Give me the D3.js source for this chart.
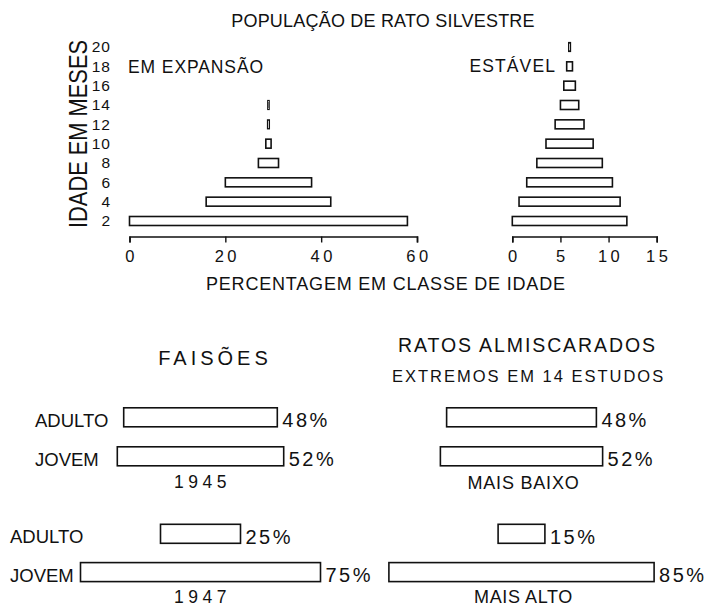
<!DOCTYPE html>
<html>
<head>
<meta charset="utf-8">
<script src="https://cdn.jsdelivr.net/npm/d3@7"></script>
<style>
  body { margin: 0; background: #fff; }
  svg { display: block; font-family: "Liberation Sans", Arial, sans-serif; }
</style>
</head>
<body>
<div id="chart"></div>
<script>
// top pyramids: percentage in each 2-month age class
const ages = [2, 4, 6, 8, 10, 12, 14, 16, 18, 20];
const expansao = [58, 26, 18, 4.2, 1.1, 0.4, 0.3];
const estavel = [11.9, 10.5, 8.9, 6.8, 4.9, 3.0, 1.9, 1.2, 0.6, 0.2];
const ticksExpansao = [0, 20, 40, 60];
const ticksEstavel = [0, 5, 10, 15];

// bottom: adult / young split
const classes = ["ADULTO", "JOVEM"];
const faisoes1945 = [48, 52];
const faisoes1947 = [25, 75];
const ratosBaixo = [48, 52];
const ratosAlto = [15, 85];

const width = 707, height = 607;
const ink = "#111";

const svg = d3.select("#chart").append("svg")
    .attr("width", width)
    .attr("height", height);

svg.append("rect").attr("width", width).attr("height", height).attr("fill", "#fff");

function label(txt, x, y, size, ls, anchor) {
  return svg.append("text")
      .attr("x", x).attr("y", y)
      .attr("font-size", size)
      .attr("letter-spacing", ls || 0)
      .attr("text-anchor", anchor || "start")
      .attr("fill", ink)
      .text(txt);
}

// ---- top section ----
label("POPULAÇÃO DE RATO SILVESTRE", 383, 27, 18, 0.2, "middle");

const y = d3.scaleLinear().domain([2, 20]).range([221, 47]);
const barH = 9;

svg.append("g")
    .attr("transform", "translate(111,0)")
    .call(d3.axisLeft(y).tickValues(ages).tickSize(0).tickPadding(0))
    .call(g => g.select(".domain").remove())
    .call(g => g.selectAll("text")
        .attr("font-size", 15.5)
        .attr("letter-spacing", 1)
        .attr("fill", ink)
        .attr("font-family", "Liberation Sans, Arial, sans-serif"));

svg.append("text")
    .attr("transform", "translate(87,134) rotate(-90)")
    .attr("text-anchor", "middle")
    .attr("font-size", 25)
    .attr("textLength", 188)
    .attr("lengthAdjust", "spacingAndGlyphs")
    .attr("fill", ink)
    .text("IDADE EM MESES");

function pyramid(values, xScale, ticks) {
  const center = d3.max(values) / 2;
  svg.append("g")
    .selectAll("rect")
    .data(values)
    .join("rect")
      .attr("x", d => xScale(center - d / 2))
      .attr("y", (d, i) => y(ages[i]) - barH / 2)
      .attr("width", d => Math.max(0.5, xScale(center + d / 2) - xScale(center - d / 2)))
      .attr("height", barH)
      .attr("fill", "#fff")
      .attr("stroke", ink)
      .attr("stroke-width", d => d < 0.5 ? 1.2 : 1.6);

  svg.append("g")
      .attr("transform", "translate(0,236.5)")
      .call(d3.axisBottom(xScale).tickValues(ticks).tickSize(6).tickSizeOuter(6).tickPadding(8))
      .call(g => g.select(".domain").attr("stroke", ink).attr("stroke-width", 1.6))
      .call(g => g.selectAll("line").attr("stroke", ink).attr("stroke-width", 1.4))
      .call(g => g.selectAll("text")
          .attr("font-size", 16.5)
          .attr("letter-spacing", 3.5)
          .attr("dx", "1.5")
          .attr("fill", ink)
          .attr("font-family", "Liberation Sans, Arial, sans-serif"));
}

const xExp = d3.scaleLinear().domain([0, 60]).range([129.5, 417]);
const xEst = d3.scaleLinear().domain([0, 15]).range([512.3, 656.7]);
pyramid(expansao, xExp, ticksExpansao);
pyramid(estavel, xEst, ticksEstavel);

label("EM EXPANSÃO", 128, 73, 17.5, 0.9);
label("ESTÁVEL", 556, 72, 17.5, 1.1, "end");
label("PERCENTAGEM EM CLASSE DE IDADE", 206, 290, 18, 0.8);

// ---- bottom section ----
label("FAISÕES", 215, 365, 20, 4, "middle");
label("RATOS ALMISCARADOS", 398, 352, 19.5, 1.9);
label("EXTREMOS EM 14 ESTUDOS", 392, 382, 16.5, 2);

const rowH = 19;

function split(values, cx, pxPerHundred, top, step, caption, captionY, captionSize, captionLs) {
  const w = d3.scaleLinear().domain([0, 100]).range([0, pxPerHundred]);
  const row = d3.scalePoint().domain(classes).range([top, top + step]);
  const g = svg.append("g");
  g.selectAll("rect")
    .data(values)
    .join("rect")
      .attr("x", d => cx - w(d) / 2)
      .attr("y", (d, i) => row(classes[i]) - rowH / 2)
      .attr("width", d => w(d))
      .attr("height", rowH)
      .attr("fill", "#fff")
      .attr("stroke", ink)
      .attr("stroke-width", 1.6);
  g.selectAll("text")
    .data(values)
    .join("text")
      .attr("x", d => cx + w(d) / 2 + 5)
      .attr("y", (d, i) => row(classes[i]) + 10)
      .attr("font-size", 20)
      .attr("letter-spacing", 2.5)
      .attr("fill", ink)
      .text(d => d + "%");
  label(caption, cx + 2, captionY, captionSize, captionLs, "middle");
  return row;
}

const r45 = split(faisoes1945, 200.5, 320, 417.3, 39, "1945", 488, 17.5, 4.5);
const r47 = split(faisoes1947, 200.5, 320, 533.8, 38.3, "1947", 603, 17.5, 4.5);
split(ratosBaixo, 521.5, 312, 417.3, 39, "MAIS BAIXO", 489, 18, 0.8);
split(ratosAlto, 521.5, 312, 533.8, 38.3, "MAIS ALTO", 603, 18, 0.6);

classes.forEach(c => {
  label(c, 35, r45(c) + 9.5, 18.5, 0);
  label(c, 10, r47(c) + 9.5, 18.5, 0);
});
</script>
</body>
</html>
